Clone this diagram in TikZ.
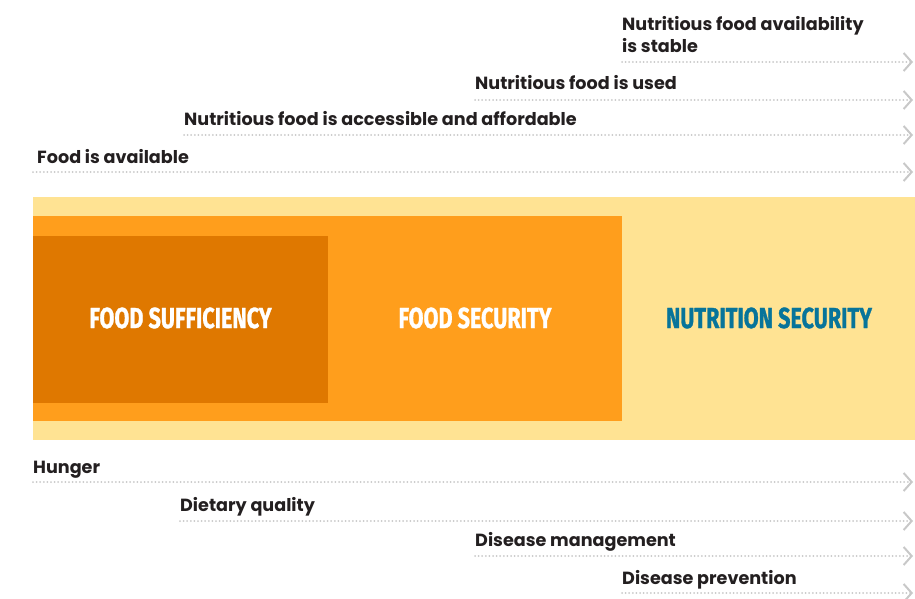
\documentclass[tikz,border=0pt]{standalone}
\usepackage{fontspec}
\setmainfont{Poppins}
\newfontfamily\condfont{Fira Sans}[BoldFeatures={FakeBold=1.2}]
\usepackage{graphicx}
\usetikzlibrary{positioning, calc, arrows.meta}
\definecolor{paleYellow}{HTML}{FFE393}
\definecolor{midOrange}{HTML}{FF9E1C}
\definecolor{darkOrange}{HTML}{DF7800}
\definecolor{tealBlue}{HTML}{07749A}
\definecolor{labelInk}{HTML}{231F20}
\definecolor{dotGrey}{HTML}{C8C8C8}
\newcommand{\boxtext}[1]{\scalebox{0.745}[1]{\condfont\bfseries\fontsize{29}{29}\selectfont #1}}
\tikzset{
  lbl/.style={anchor=base west, inner sep=0pt, text=labelInk, font=\fontsize{17.6}{22}\selectfont\bfseries},
  guide/.style={dotGrey, line width=2pt, line cap=round, dash pattern=on 0pt off 3.6pt,
    -{Straight Barb[length=8pt, width=18pt, line width=2pt, line cap=butt]}},
}

\begin{document}
\begin{tikzpicture}[x=1pt, y=-1pt]
    \useasboundingbox (0, 0) rectangle (915, 599);
    % nested boxes
    \fill[paleYellow] (33, 197) rectangle (915, 440);
    \fill[midOrange] (33, 216) rectangle (622, 421);
    \fill[darkOrange] (33, 236) rectangle (328, 403);
    \node[text=white] (suff) at (180.5, 318) {\boxtext{FOOD SUFFICIENCY}};
    \node[text=white] (sec) at (475, 318) {\boxtext{FOOD SECURITY}};
    \node[text=tealBlue] (nut) at (769, 318) {\boxtext{NUTRITION SECURITY}};
    % dimensions above
    \coordinate (stabS) at (622, 62);   \coordinate (stabE) at (913, 62);
    \coordinate (usedS) at (475, 100);  \coordinate (usedE) at (913, 100);
    \coordinate (accS) at (184, 135);   \coordinate (accE) at (913, 135);
    \coordinate (availS) at (33, 172);  \coordinate (availE) at (913, 172);
    \node[lbl, align=left] (stab) at (622, 53) {Nutritious food availability\\is stable};
    \node[lbl] (used) at (475, 90) {Nutritious food is used};
    \node[lbl] (acc) at (184, 125) {Nutritious food is accessible and affordable};
    \node[lbl] (avail) at (37, 163) {Food is available};
    \draw[guide] (stabS) -- (stabE);
    \draw[guide] (usedS) -- (usedE);
    \draw[guide] (accS) -- (accE);
    \draw[guide] (availS) -- (availE);
    % outcomes below
    \coordinate (hungS) at (33, 482);   \coordinate (hungE) at (913, 482);
    \coordinate (dietS) at (180, 521);  \coordinate (dietE) at (913, 521);
    \coordinate (mgmtS) at (475, 556);  \coordinate (mgmtE) at (913, 556);
    \coordinate (prevS) at (622, 593);  \coordinate (prevE) at (913, 593);
    \node[lbl] (hung) at (33, 473) {Hunger};
    \node[lbl] (diet) at (180, 511) {Dietary quality};
    \node[lbl] (mgmt) at (475, 546) {Disease management};
    \node[lbl] (prev) at (622, 584) {Disease prevention};
    \draw[guide] (hungS) -- (hungE);
    \draw[guide] (dietS) -- (dietE);
    \draw[guide] (mgmtS) -- (mgmtE);
    \draw[guide] (prevS) -- (prevE);
\end{tikzpicture}
\end{document}
